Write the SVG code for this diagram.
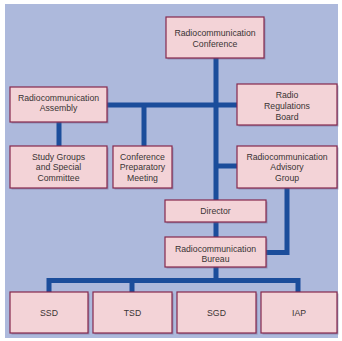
<svg xmlns="http://www.w3.org/2000/svg" width="342" height="341" viewBox="0 0 342 341">
<style>
.bg{fill:#adb9dc}
.sh{fill:#6c5f86;opacity:0.45}
.box{fill:#f3d3d7;stroke:#86284d;stroke-width:1.2}
.t{font-family:"Liberation Sans",Arial,sans-serif;font-size:8.7px;fill:#3a3434;text-anchor:middle}
.c{fill:none;stroke:#1b4d9b;stroke-width:5;stroke-linejoin:miter}
</style>
<rect x="0" y="0" width="342" height="341" fill="#ffffff"/>
<rect class="bg" x="5" y="4" width="333" height="334"/>
<g id="connectors">
<path class="c" d="M216,58 V280.5"/>
<path class="c" d="M107,105 H237"/>
<path class="c" d="M59,122 V146"/>
<path class="c" d="M144,105 V146"/>
<path class="c" d="M216,166 H237"/>
<path class="c" d="M287,188 V252.5 H266"/>
<path class="c" d="M49,292 V280.5 H298 V292"/>
<path class="c" d="M132,280.5 V292"/>
</g>
<g id="conference">
<rect class="sh" x="167.5" y="18.5" width="98" height="41"/>
<rect class="box" x="166" y="17" width="98" height="41"/>
<text class="t" x="215" y="36">Radiocommunication</text>
<text class="t" x="215" y="46.5">Conference</text>
</g>
<g id="assembly">
<rect class="sh" x="11.5" y="88.5" width="97" height="35"/>
<rect class="box" x="10" y="87" width="97" height="35"/>
<text class="t" x="58.5" y="101.3">Radiocommunication</text>
<text class="t" x="58.5" y="111.3">Assembly</text>
</g>
<g id="board">
<rect class="sh" x="238.5" y="85.5" width="100" height="41"/>
<rect class="box" x="237" y="84" width="100" height="41"/>
<text class="t" x="287" y="98">Radio</text>
<text class="t" x="287" y="109">Regulations</text>
<text class="t" x="287" y="119.5">Board</text>
</g>
<g id="study">
<rect class="sh" x="11.5" y="147.5" width="97" height="42"/>
<rect class="box" x="10" y="146" width="97" height="42"/>
<text class="t" x="58.5" y="160">Study Groups</text>
<text class="t" x="58.5" y="170">and Special</text>
<text class="t" x="58.5" y="180.5">Committee</text>
</g>
<g id="cpm">
<rect class="sh" x="114.5" y="147.5" width="59" height="42"/>
<rect class="box" x="113" y="146" width="59" height="42"/>
<text class="t" x="142.5" y="160">Conference</text>
<text class="t" x="142.5" y="170">Preparatory</text>
<text class="t" x="142.5" y="180.5">Meeting</text>
</g>
<g id="advisory">
<rect class="sh" x="238.5" y="147.5" width="100" height="42"/>
<rect class="box" x="237" y="146" width="100" height="42"/>
<text class="t" x="287" y="160">Radiocommunication</text>
<text class="t" x="287" y="170">Advisory</text>
<text class="t" x="287" y="180.5">Group</text>
</g>
<g id="director">
<rect class="sh" x="166.5" y="201.5" width="101" height="22"/>
<rect class="box" x="165" y="200" width="101" height="22"/>
<text class="t" x="215.5" y="213.5">Director</text>
</g>
<g id="bureau">
<rect class="sh" x="166.5" y="238.5" width="101" height="30"/>
<rect class="box" x="165" y="237" width="101" height="30"/>
<text class="t" x="215.5" y="251.5">Radiocommunication</text>
<text class="t" x="215.5" y="261.5">Bureau</text>
</g>
<g id="ssd">
<rect class="sh" x="11.5" y="293.5" width="78" height="41"/>
<rect class="box" x="10" y="292" width="78" height="41"/>
<text class="t" x="49" y="316">SSD</text>
</g>
<g id="tsd">
<rect class="sh" x="94.5" y="293.5" width="79" height="41"/>
<rect class="box" x="93" y="292" width="79" height="41"/>
<text class="t" x="132.5" y="316">TSD</text>
</g>
<g id="sgd">
<rect class="sh" x="178.5" y="293.5" width="79" height="41"/>
<rect class="box" x="177" y="292" width="79" height="41"/>
<text class="t" x="216.5" y="316">SGD</text>
</g>
<g id="iap">
<rect class="sh" x="262.5" y="293.5" width="76" height="41"/>
<rect class="box" x="261" y="292" width="76" height="41"/>
<text class="t" x="299" y="316">IAP</text>
</g>
</svg>
